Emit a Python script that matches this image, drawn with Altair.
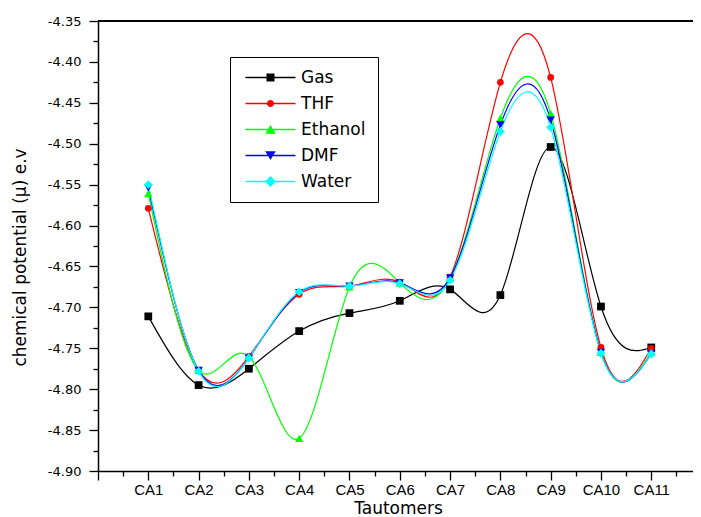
import json
import altair as alt
import pandas as pd

# ---------------- data ----------------
categories = ["CA1", "CA2", "CA3", "CA4", "CA5", "CA6", "CA7", "CA8", "CA9", "CA10", "CA11"]
series_names = ["Gas", "THF", "Ethanol", "DMF", "Water"]

gas = [-4.711, -4.795, -4.775, -4.729, -4.707, -4.692, -4.678, -4.685, -4.504, -4.699, -4.749]
thf = [-4.579, -4.777, -4.760, -4.684, -4.674, -4.669, -4.663, -4.425, -4.419, -4.749, -4.750]
ethanol = [-4.561, -4.777, -4.760, -4.860, -4.675, -4.670, -4.665, -4.469, -4.463, -4.755, -4.755]
dmf = [-4.554, -4.777, -4.762, -4.682, -4.674, -4.670, -4.664, -4.477, -4.471, -4.755, -4.757]
water = [-4.550, -4.778, -4.762, -4.681, -4.674, -4.671, -4.667, -4.485, -4.480, -4.756, -4.757]

colors = ["#000000", "#ff0000", "#00ff00", "#0000ff", "#00ffff"]
marker_shapes = ["square", "circle", "triangle-up", "triangle-down", "diamond"]
marker_sizes = [60, 45, 70, 70, 80]

y_min, y_max = -4.90, -4.35
x_ticks = [i * 0.5 for i in range(24)]
y_ticks = [round(y_min + 0.025 * i, 3) for i in range(23)]

rows = []
for name, vals in zip(series_names, [gas, thf, ethanol, dmf, water]):
    for i, (cat, v) in enumerate(zip(categories, vals)):
        rows.append({"series": name, "cat": cat, "pos": i + 1, "value": v})
df = pd.DataFrame(rows)

# ---------------- legend symbols (line + marker, unit coords x4 px) ----------------
line_part = "M-6.25,-0.17H6.25V0.17H-6.25Z"
legend_markers = [
    "M-1,-1H1V1H-1Z",
    "M-0.9,0A0.9,0.9,0,1,1,0.9,0A0.9,0.9,0,1,1,-0.9,0Z",
    "M0,-1.15L1.3,1.05L-1.3,1.05Z",
    "M0,1.15L-1.3,-1.05L1.3,-1.05Z",
    "M0,-1.35L1.35,0L0,1.35L-1.35,0Z",
]
legend_paths = [line_part + m for m in legend_markers]

legend = alt.Legend(
    title=None,
    orient="none",
    legendX=132,
    legendY=36,
    direction="vertical",
    padding=12,
    strokeColor="black",
    symbolSize=64,
    symbolOffset=20,
    symbolOpacity=1,
    symbolStrokeWidth=0,
    labelOffset=22,
    rowPadding=8,
    labelFont="DejaVu Sans",
    labelFontSize=17,
    labelColor="black",
)

# ---------------- axes ----------------
x_label_arr = json.dumps([""] + categories)
x_axis = alt.Axis(
    values=x_ticks,
    labelExpr=f"datum.value % 1 === 0 ? ({x_label_arr}[datum.value] || '') : ''",
    tickSize={"condition": {"test": "datum.value % 1 === 0", "value": 9}, "value": 5},
    labelOverlap=False,
    labelFlush=False,
    labelFont="Liberation Sans",
    labelFontSize=15,
    labelColor="black",
    labelPadding=2,
    title="Tautomers",
    titleFont="DejaVu Sans",
    titleFontSize=17,
    titleFontWeight="normal",
    titleColor="black",
    titleX=300,
    titleY=37,
    titleAlign="center",
    titleBaseline="middle",
    grid=False,
    orient="bottom",
)

major_y = "abs(datum.value * 20 - round(datum.value * 20)) < 0.01"
y_axis = alt.Axis(
    values=y_ticks,
    labelExpr=f"{major_y} ? replace(format(datum.value, '.2f'), '\u2212', '-') : ''",
    tickSize={"condition": {"test": major_y, "value": 9}, "value": 5},
    labelOverlap=False,
    labelFlush=False,
    labelFont="DejaVu Sans",
    labelFontSize=13,
    labelColor="black",
    labelPadding=8,
    title="chemical potential (\u03bc) e.v",
    titleFont="DejaVu Sans",
    titleFontSize=17,
    titleFontWeight="normal",
    titleColor="black",
    titleAngle=270,
    titleX=-78,
    titleY=236,
    titleAlign="center",
    titleBaseline="middle",
    grid=False,
    orient="left",
)

x_scale = alt.Scale(domain=[0, 11.83], nice=False, zero=False)
y_scale = alt.Scale(domain=[y_min, y_max], nice=False, zero=False)

base = alt.Chart(df)
enc_x = alt.X("pos:Q", scale=x_scale, axis=x_axis)
enc_y = alt.Y("value:Q", scale=y_scale, axis=y_axis)

line_layers = []
point_layers = []
for name, col, shp, sz in zip(series_names, colors, marker_shapes, marker_sizes):
    sub = base.transform_filter(alt.datum.series == name)
    line_layers.append(
        sub.mark_line(interpolate="natural", strokeWidth=1.2, color=col).encode(x=enc_x, y=enc_y)
    )
    point_layers.append(
        sub.mark_point(filled=True, shape=shp, size=sz, color=col, opacity=1).encode(x=enc_x, y=enc_y)
    )

top_frame = base.mark_rule(color="black", strokeWidth=1.5).encode(
    y=alt.YDatum(y_max, type="quantitative", scale=y_scale, axis=y_axis),
)

legend_layer = (
    base.transform_filter("datum.pos > 1000")
    .mark_point(filled=True, size=64, opacity=1)
    .encode(
        color=alt.Color("series:N", scale=alt.Scale(domain=series_names, range=colors), legend=legend),
        shape=alt.Shape("series:N", scale=alt.Scale(domain=series_names, range=legend_paths), legend=legend),
    )
)

chart = (
    alt.layer(*line_layers, *point_layers, top_frame, legend_layer)
    .properties(
        width=595,
        height=450,
        autosize=alt.AutoSizeParams(type="none"),
        padding={"left": 90, "top": 13, "right": 0, "bottom": 46},
        background="white",
    )
    .configure_view(stroke=None)
    .configure_axis(domainColor="black", domainWidth=1.5, tickColor="black", tickWidth=1.3)
)

chart.save("out.html", embed_options={"renderer": "svg", "actions": False})
